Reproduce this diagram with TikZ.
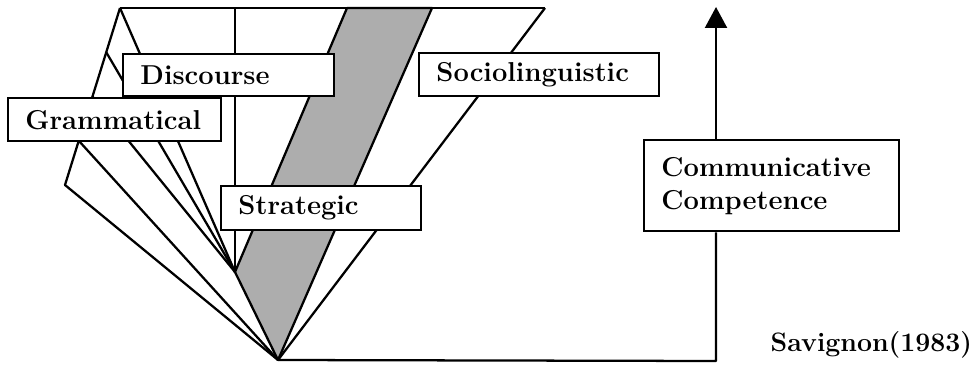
\documentclass[tikz,border=0pt]{standalone}
\usepackage{fontspec}
\usetikzlibrary{arrows.meta,calc}
\begin{document}
\begin{tikzpicture}[x=0.75pt,y=-0.75pt,
  ln/.style={line width=1.7pt, line join=round},
  band/.style={fill=black!32, draw=black, line width=1.7pt, line join=round},
  compbox/.style={draw, line width=1.7pt, fill=white, anchor=north west,
    inner xsep=13pt, inner ysep=0pt, align=left,
    font=\fontsize{20.5}{24.75}\selectfont\bfseries},
  cite/.style={anchor=base west, font=\fontsize{20}{24.75}\selectfont\bfseries}]
\useasboundingbox (0,0) rectangle (977,367);
% key points
\coordinate (T) at (120,8);
\coordinate (R) at (545,8);
\coordinate (V) at (235,8);
\coordinate (B1) at (347,8);
\coordinate (B2) at (432,8);
\coordinate (S) at (235,272);
\coordinate (A) at (278,360);
\coordinate (L) at (65,185);
\coordinate (P1) at ($(T)!0.25!(L)$);
\coordinate (P2) at ($(T)!0.5!(L)$);
\coordinate (P3) at ($(T)!0.75!(L)$);
\coordinate (C) at (716,361);
\coordinate (Tip) at (716,7);
% shaded strategic band
\path[band] (B1) -- (S) -- (A) -- (B2) -- cycle;
% frame lines
\draw[ln] (T) -- (R);
\draw[ln] (T) -- (L) -- (A);
\draw[ln] (T) -- (S);
\draw[ln] (P1) -- (S);
\draw[ln] (P2) -- (S);
\draw[ln] (P3) -- (A);
\draw[ln] (V) -- (S);
\draw[ln] (R) -- (A);
% labels
\node[compbox, text width=133.75pt, minimum height=32.25pt] (gram) at (7,97) {Grammatical};
\node[compbox, text width=132.25pt, minimum height=31.5pt] (disc) at (122,53) {Discourse};
\node[compbox, text width=154pt, minimum height=32.25pt] (soc) at (418,52) {Sociolinguistic};
\node[compbox, text width=124pt, minimum height=33pt] (strat) at (220,185) {Strategic};
\node[compbox, text width=165.25pt, minimum height=68.25pt] (cc) at (643,139) {Communicative\\Competence};
\node[cite] (sav) at (766,351) {Savignon(1983)};
% axis to communicative competence
\draw[ln] (A) -- (C) -- (cc.south -| C);
\draw[ln, -{Triangle[width=16.5pt,length=15.75pt]}] (cc.north -| C) -- (Tip);
\end{tikzpicture}
\end{document}
